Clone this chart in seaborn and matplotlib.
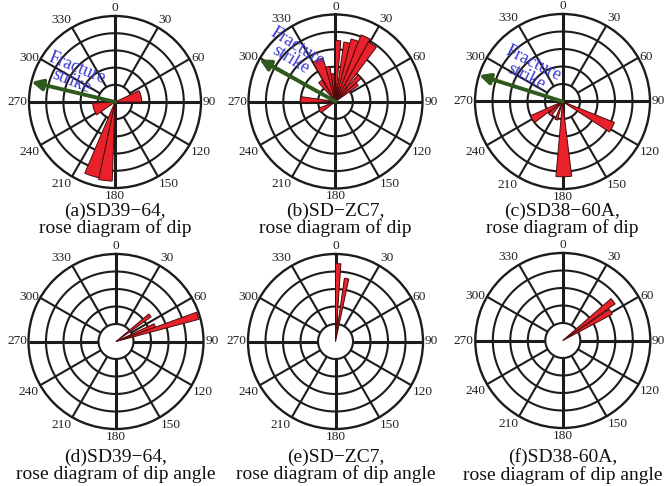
import numpy as np
import matplotlib
matplotlib.use("Agg")
import matplotlib.pyplot as plt
import seaborn as sns

# ---- data (degrees from north, clockwise; lengths in ring units 0-5) ----
a_start = [65, 235, 182, 192]
a_end = [90, 267, 192, 203]
a_len = [1.55, 1.3, 4.6, 4.5]

b_start = [0, 8, 14, 21, 29, 40, 48, 232, 268, 318, 330, 344, 351]
b_end = [5, 14, 21, 29, 37, 48, 55, 248, 278, 328, 344, 351, 357]
b_len = [3.5, 3.45, 3.7, 4.1, 3.9, 2.0, 1.6, 1.05, 2.0, 1.45, 2.6, 2.05, 1.6]

c_start = [173, 112, 233, 195, 218]
c_end = [185, 123, 246, 203, 230]
c_len = [4.3, 3.2, 2.0, 1.1, 1.05]

d_start = [50, 65, 70]
d_end = [55, 70, 75]
d_len = [2.45, 2.4, 4.9]

e_start = [0, 8]
e_end = [4, 12]
e_len = [4.45, 3.65]

f_start = [49, 56]
f_end = [55, 62]
f_len = [3.65, 3.2]

strike_dir = [283.5, 299, 287.5]

angle_ticks = list(range(0, 360, 30))

captions = [
    "(a)SD39\u221264,\nrose diagram of dip",
    "(b)SD\u2212ZC7,\nrose diagram of dip",
    "(c)SD38\u221260A,\nrose diagram of dip",
    "(d)SD39\u221264,\nrose diagram of dip angle",
    "(e)SD\u2212ZC7,\nrose diagram of dip angle",
    "(f)SD38-60A,\nrose diagram of dip angle",
]

sns.set_theme(style="white")
plt.rcParams["font.family"] = ["Liberation Serif", "DejaVu Serif"]

W, H = 668, 486
fig = plt.figure(figsize=(W / 100, H / 100), dpi=100)
fig.patch.set_facecolor("white")

RED = "#e8212b"
EDGE = "#4a0a0a"
GRID = "#1c1c1c"
GREEN = "#2e5b1c"
BLUE = "#3a3ad2"


def tick_align(a):
    s, c = np.sin(np.radians(a)), np.cos(np.radians(a))
    ha = "center" if abs(s) < 0.3 else ("left" if s > 0 else "right")
    if c > 0.6:
        va = "bottom"
    elif c < -0.3:
        va = "top"
    else:
        va = "center"
    return ha, va


def draw_panel(cx, cy, R, starts, ends, lens, cross, caption, cap_y,
               strike=None, txt_dir=None, txt_r=None, txt_rot=None):
    ax = fig.add_axes([(cx - R) / W, (H - cy - R) / H, 2 * R / W, 2 * R / H],
                      projection="polar")
    ax.set_theta_zero_location("N")
    ax.set_theta_direction(-1)
    ax.set_ylim(0, 5)
    ax.set_xticks([])
    ax.set_yticks([])
    ax.grid(False)
    ax.spines["polar"].set_linewidth(1.7)
    ax.spines["polar"].set_color(GRID)

    # rings
    th = np.linspace(0, 2 * np.pi, 361)
    for r in range(1, 5):
        ax.plot(th, np.full_like(th, r), color=GRID, lw=1.5, zorder=1)
    # spokes
    for a in angle_ticks:
        main = a % 90 == 0
        r0 = 0 if (main and cross) else 1
        ax.plot([np.radians(a)] * 2, [r0, 5], color=GRID,
                lw=2.2 if main else 1.5, zorder=1, solid_capstyle="butt")

    # bars
    starts, ends, lens = np.array(starts), np.array(ends), np.array(lens)
    ax.bar(np.radians((starts + ends) / 2), lens, width=np.radians(ends - starts),
           bottom=0, color=RED, edgecolor=EDGE, linewidth=0.7, zorder=3)

    # angle labels
    for a in angle_ticks:
        ha, va = tick_align(a)
        off = 1.2
        ax.annotate(str(a), xy=(np.radians(a), 5),
                    xytext=(off * np.sin(np.radians(a)), off * np.cos(np.radians(a))),
                    textcoords="offset points", ha=ha, va=va, fontsize=9.6,
                    color="#222222", annotation_clip=False)

    if strike is not None:
        ax.annotate("", xy=(np.radians(strike), 5), xytext=(0, 0),
                    arrowprops=dict(arrowstyle="-|>", color=GREEN, lw=2.8,
                                    mutation_scale=16, shrinkA=0, shrinkB=0),
                    zorder=4, annotation_clip=False)
        ax.text(np.radians(txt_dir), txt_r, "Fracture\nstrike", color=BLUE,
                fontsize=13, rotation=txt_rot, rotation_mode="anchor",
                ha="center", va="center", linespacing=0.82, zorder=5)

    fig.text(cx / W, 1 - cap_y / H, caption, ha="center", va="center",
             fontsize=14, linespacing=0.98, color="#111111")
    return ax


draw_panel(115, 102, 86, a_start, a_end, a_len, True, captions[0], 220,
           strike_dir[0], 304, 2.86, -22)
draw_panel(335.5, 101.5, 87, b_start, b_end, b_len, True, captions[1], 220,
           strike_dir[1], 319.4, 3.65, -31.5)
draw_panel(562.5, 101.5, 87.5, c_start, c_end, c_len, True, captions[2], 220,
           strike_dir[2], 314, 2.6, -26.5)
draw_panel(116, 341.5, 87.5, d_start, d_end, d_len, False, captions[3], 466)
draw_panel(335.5, 341.5, 87.5, e_start, e_end, e_len, False, captions[4], 466)
draw_panel(562.8, 340.5, 87.5, f_start, f_end, f_len, False, captions[5], 466)

fig.savefig("out.png", dpi=100)
